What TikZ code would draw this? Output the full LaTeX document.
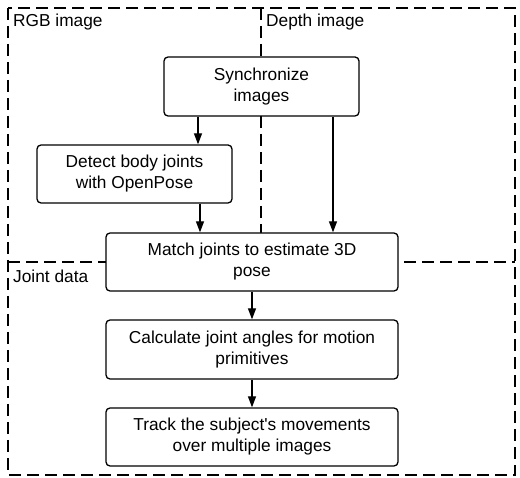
\documentclass[tikz,border=0pt]{standalone}
\usepackage{fontspec}
\setmainfont{Liberation Sans}
\usetikzlibrary{arrows.meta}
\begin{document}
\begin{tikzpicture}[x=1pt,y=-1pt,
  stepbox/.style={draw,line width=1.3pt,rounded corners=4pt,fill=white,align=center,inner sep=0pt,font=\fontsize{17.3}{21}\selectfont},
  lane/.style={dashed,dash pattern=on 12pt off 6pt,line width=1.3pt},
  lanelabel/.style={anchor=west,inner sep=0pt,font=\fontsize{17.3}{20}\selectfont},
  arr/.style={line width=1.3pt,-{Triangle[length=11pt,width=8pt]}}]
\useasboundingbox (0,0) rectangle (520,478);
% lanes
\draw[lane] (8,8) rectangle (515,475);
\draw[lane] (261,8) -- (261,262);
\draw[lane] (8,262) -- (515,262);
\node[lanelabel] (lrgb) at (13,22) {RGB image};
\node[lanelabel] (ldepth) at (266,22) {Depth image};
\node[lanelabel] (ljoint) at (13,276) {Joint data};
% boxes
\node[stepbox,minimum width=195pt,minimum height=59pt] (sync) at (261.5,86.5) {Synchronize\\images};
\node[stepbox,minimum width=195pt,minimum height=58pt] (detect) at (134.5,174) {Detect body joints\\with OpenPose};
\node[stepbox,minimum width=292pt,minimum height=58pt] (match) at (252,262) {Match joints to estimate 3D\\pose};
\node[stepbox,minimum width=292pt,minimum height=59pt] (calc) at (252,349.5) {Calculate joint angles for motion\\primitives};
\node[stepbox,minimum width=292pt,minimum height=58pt] (track) at (252,437) {Track the subject\textquotesingle s movements\\over multiple images};
% arrows
\draw[arr] (sync.south -| 198,0) -- (detect.north -| 198,0);
\draw[arr] (detect.south -| 200,0) -- (match.north -| 200,0);
\draw[arr] (sync.south -| 333,0) -- (match.north -| 333,0);
\draw[arr] (match.south) -- (calc.north);
\draw[arr] (calc.south) -- (track.north);
\end{tikzpicture}
\end{document}
